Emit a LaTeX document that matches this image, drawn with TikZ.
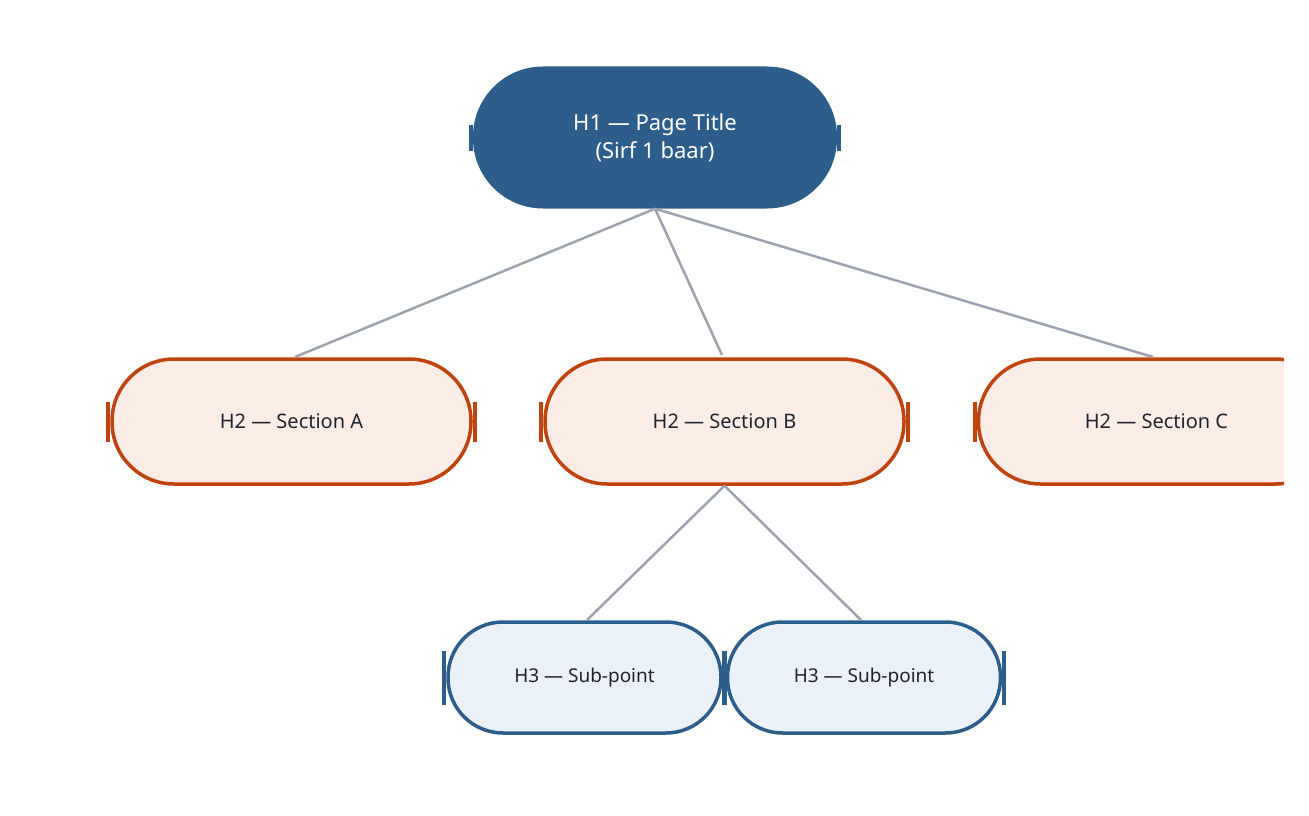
\documentclass[tikz,border=0pt]{standalone}
\usepackage{fontspec}
\setmainfont{Noto Sans}
\definecolor{navy}{HTML}{2D5D8A}
\definecolor{rust}{HTML}{C0430F}
\definecolor{peach}{HTML}{FBECE5}
\definecolor{pale}{HTML}{EAF1F9}
\definecolor{edge}{HTML}{9CA3AF}
\definecolor{ink}{HTML}{1F2430}
\begin{document}
\begin{tikzpicture}[x=1pt,y=-1pt,
  h1/.style={rectangle,rounded corners=70pt,fill=navy,minimum width=364pt,minimum height=142pt,text=white,font=\bfseries\fontsize{22}{28}\selectfont,align=center,inner sep=0pt},
  h2/.style={rectangle,rounded corners=62pt,fill=peach,draw=rust,line width=3.5pt,minimum width=359pt,minimum height=125pt,text=ink,font=\bfseries\fontsize{20}{24}\selectfont,inner sep=0pt},
  h3/.style={rectangle,rounded corners=55pt,fill=pale,draw=navy,line width=3.5pt,minimum width=273pt,minimum height=111pt,text=ink,font=\bfseries\fontsize{19}{23}\selectfont,inner sep=0pt},
  link/.style={draw=edge,line width=2.5pt},
  bar/.style={line width=4pt}]
\useasboundingbox (0,0) rectangle (1309,816);
\begin{scope}
\clip (0,0) rectangle (1284,816);
\node[h1] (t) at (655,137.5) {H1 — Page Title\\(Sirf 1 baar)};
\node[h2] (a) at (291.5,421.5) {H2 — Section A};
\node[h2] (b) at (724.5,421.5) {H2 — Section B};
\node[h2] (c) at (1158,421.5) {\hspace*{-3pt}H2 — Section C};
\node[h3] (d) at (584.5,677.5) {H3 — Sub-point};
\node[h3] (e) at (864,677.5) {H3 — Sub-point};
\foreach \n/\c/\h in {t/navy/13,a/rust/20,b/rust/20,c/rust/20,d/navy/27,e/navy/27}{
  \draw[bar,\c] ([xshift=-2pt,yshift=-\h pt]\n.west) -- ([xshift=-2pt,yshift=\h pt]\n.west);
  \draw[bar,\c] ([xshift=2pt,yshift=-\h pt]\n.east) -- ([xshift=2pt,yshift=\h pt]\n.east);
}
\coordinate (ta) at (295,357); \coordinate (tb) at (722,355); \coordinate (tc) at (1153,357);
\coordinate (dd) at (587,620); \coordinate (ee) at (861,620);
\draw[link] (t.south) -- (ta);
\draw[link] (t.south) -- (tb);
\draw[link] (t.south) -- (tc);
\draw[link] (b.south) -- (dd);
\draw[link] (b.south) -- (ee);
\end{scope}
\end{tikzpicture}
\end{document}
